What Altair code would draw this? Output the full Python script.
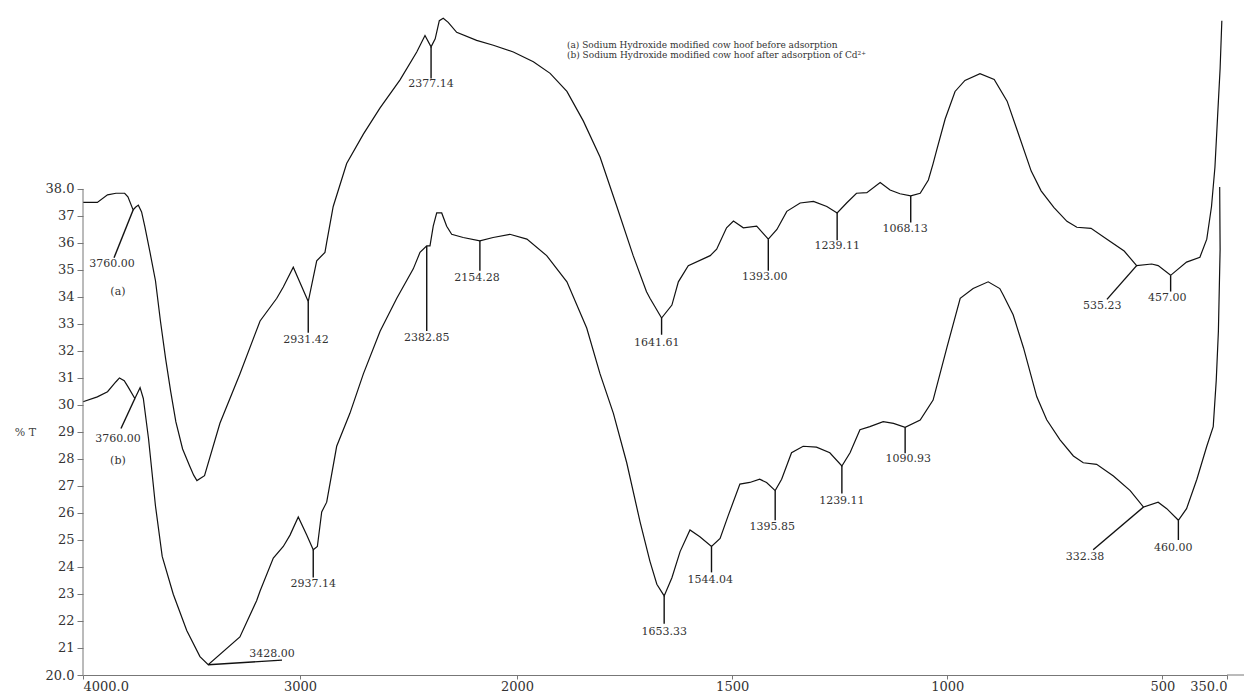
import altair as alt
import pandas as pd

# ---- Curve (a): NaOH modified cow hoof before adsorption ----
a_wn = [4000, 3934, 3887, 3848, 3808, 3793, 3769, 3758, 3745, 3730, 3715, 3690, 3666, 3643,
        3619, 3596, 3572, 3541, 3509, 3490, 3475, 3440, 3369, 3277, 3184, 3107, 3077, 3031,
        2962, 2923, 2885, 2877, 2847, 2785, 2708, 2631, 2539, 2462, 2424, 2396, 2377, 2358,
        2340, 2317, 2278, 2186, 2109, 2017, 1962, 1923, 1884, 1846, 1807, 1768, 1730, 1699,
        1691, 1664, 1640, 1625, 1602, 1551, 1536, 1513, 1497, 1474, 1443, 1416, 1396, 1373,
        1342, 1311, 1280, 1256, 1234, 1211, 1187, 1156, 1133, 1110, 1085, 1063, 1044, 1033,
        1025, 1005, 982, 959, 924, 891, 861, 838, 805, 782, 752, 722, 699, 666, 629, 589,
        560, 525, 510, 481, 444, 413, 397, 386, 378, 372, 366, 362]
a_t = [37.50, 37.50, 37.78, 37.84, 37.84, 37.71, 37.22, 37.32, 37.40, 37.15, 36.60, 35.60, 34.60, 33.10,
       31.70, 30.50, 29.37, 28.37, 27.75, 27.40, 27.20, 27.38, 29.32, 31.15, 33.11, 33.95, 34.37, 35.10,
       33.83, 35.34, 35.65, 36.02, 37.35, 38.94, 40.03, 41.00, 42.04, 43.07, 43.68, 43.26, 43.56, 44.23,
       44.32, 44.17, 43.80, 43.50, 43.32, 43.07, 42.71, 42.28, 41.61, 40.52, 39.18, 37.35, 35.53, 34.19,
       33.95, 33.22, 33.70, 34.56, 35.16, 35.53, 35.77, 36.56, 36.81, 36.56, 36.62, 36.14, 36.50, 37.17,
       37.48, 37.54, 37.35, 37.11, 37.48, 37.84, 37.86, 38.24, 37.96, 37.82, 37.74, 37.84, 38.33, 38.94,
       39.42, 40.59, 41.61, 42.02, 42.27, 42.05, 41.25, 40.19, 38.66, 37.93, 37.31, 36.80, 36.58, 36.54, 36.14, 35.70,
       35.16, 35.22, 35.16, 34.80, 35.29, 35.47, 36.14, 37.35, 38.81, 40.64, 42.46, 44.23]

# ---- Curve (b): NaOH modified cow hoof after adsorption of Cd2+ ----
b_wn = [4000, 3934, 3887, 3848, 3832, 3810, 3793, 3761, 3737, 3722, 3698, 3666, 3635, 3584,
        3522, 3461, 3423, 3277, 3200, 3184, 3123, 3077, 3046, 3008, 2969, 2939, 2920, 2900,
        2877, 2831, 2770, 2708, 2631, 2554, 2478, 2447, 2416, 2401, 2386, 2370, 2347, 2324,
        2301, 2248, 2171, 2110, 2033, 1977, 1931, 1884, 1838, 1807, 1776, 1745, 1714, 1691,
        1675, 1658, 1640, 1621, 1598, 1575, 1548, 1528, 1509, 1482, 1459, 1436, 1420, 1400,
        1385, 1362, 1335, 1304, 1273, 1245, 1226, 1203, 1180, 1149, 1125, 1098, 1063, 1033,
        1001, 970, 940, 905, 878, 870, 847, 823, 792, 769, 738, 707, 684, 653, 614, 575,
        544, 510, 490, 463, 444, 420, 397, 382, 375, 370, 366, 367]
b_t = [30.12, 30.30, 30.49, 30.86, 31.00, 30.90, 30.68, 30.24, 30.64, 30.24, 28.75, 26.26, 24.39, 22.99,
       21.65, 20.68, 20.38, 21.41, 22.75, 23.11, 24.33, 24.76, 25.18, 25.85, 25.18, 24.64, 24.76, 26.04,
       26.40, 28.47, 29.69, 31.15, 32.73, 33.95, 35.04, 35.65, 35.89, 35.89, 36.62, 37.11, 37.11, 36.62,
       36.32, 36.20, 36.08, 36.20, 36.32, 36.14, 35.53, 34.56, 32.85, 31.15, 29.69, 27.86, 25.67, 24.21,
       23.36, 22.93, 23.60, 24.57, 25.37, 25.12, 24.76, 25.06, 25.91, 27.07, 27.13, 27.25, 27.13, 26.83,
       27.25, 28.23, 28.47, 28.44, 28.23, 27.74, 28.23, 29.08, 29.20, 29.38, 29.32, 29.17, 29.44, 30.18,
       32.12, 33.95, 34.31, 34.56, 34.31, 34.07, 33.34, 32.12, 30.30, 29.45, 28.71, 28.11, 27.86, 27.80, 27.37, 26.83,
       26.22, 26.40, 26.16, 25.73, 26.16, 27.25, 28.47, 29.20, 30.91, 32.73, 35.77, 38.07]

# ---- Peak labels: text, anchor on curve, leader end, text position ----
peak_text = ["3760.00", "2931.42", "2377.14", "1641.61", "1393.00", "1239.11", "1068.13", "535.23", "457.00",
             "3760.00", "3428.00", "2937.14", "2382.85", "2154.28", "1653.33", "1544.04", "1395.85",
             "1239.11", "1090.93", "332.38", "460.00"]
anchor_x = [3769, 2962, 2396, 1664, 1416, 1256, 1085, 560, 481,
            3761, 3423, 2939, 2416, 2171, 1658, 1548, 1400, 1245, 1098, 544, 463]
anchor_y = [37.22, 33.83, 43.26, 33.22, 36.14, 37.11, 37.74, 35.16, 34.80,
            30.24, 20.38, 24.64, 35.89, 36.08, 22.93, 24.76, 26.83, 27.74, 29.17, 26.22, 25.73]
lead_x = [3857, 2962, 2396, 1664, 1416, 1256, 1085, 629, 481,
          3825, 3083, 2939, 2416, 2171, 1658, 1548, 1400, 1245, 1098, 661, 463]
lead_y = [35.45, 32.67, 42.09, 32.60, 34.97, 36.10, 36.76, 33.91, 34.20,
          29.13, 20.55, 23.61, 32.74, 34.97, 21.90, 23.80, 25.73, 26.72, 28.21, 24.64, 25.00]
text_x = [3866, 2972, 2396, 1675, 1424, 1256, 1098, 640, 489,
          3839, 3129, 2939, 2416, 2184, 1658, 1551, 1407, 1245, 1091, 680, 475]
text_y = [35.22, 32.41, 41.87, 32.30, 34.75, 35.88, 36.50, 33.65, 33.95,
          28.73, 20.77, 23.36, 32.49, 34.71, 21.61, 23.50, 25.48, 26.43, 28.00, 24.38, 24.71]

# ---- Curve tags and legend ----
tag_text = ["(a)", "(b)"]
tag_x = [3839, 3839]
tag_y = [34.17, 27.92]
legend_text = ["(a) Sodium Hydroxide modified cow hoof before adsorption",
               "(b) Sodium Hydroxide modified cow hoof after adsorption of Cd\u00b2\u207a"]
legend_x = [1884, 1884]
legend_y = [43.33, 42.96]

x_ticks = [4000, 3000, 2000, 1500, 1000, 500, 350]
y_ticks = list(range(20, 39))
x_axis_extent = [350, 300]   # the printed x axis line runs on past 350.0

curves = pd.concat([
    pd.DataFrame({"wn": a_wn, "T": a_t, "series": "a", "idx": range(len(a_wn))}),
    pd.DataFrame({"wn": b_wn, "T": b_t, "series": "b", "idx": range(len(b_wn))}),
])
leaders = pd.DataFrame({"x": anchor_x, "y": anchor_y, "x2": lead_x, "y2": lead_y})
labels = pd.DataFrame({"x": text_x, "y": text_y, "text": peak_text})
tags = pd.DataFrame({"x": tag_x, "y": tag_y, "text": tag_text})
legend = pd.DataFrame({"x": legend_x, "y": legend_y, "text": legend_text})

FONT = "DejaVu Serif"
W, H = 1144, 667
xscale = alt.Scale(domain=[4000, 2000, 350], range=[0, 434, W], nice=False, zero=False)
yscale = alt.Scale(domain=[20, 44.7], nice=False, zero=False)

xaxis = alt.Axis(values=x_ticks, title="", grid=False, domainColor="#777", tickColor="#777",
                 tickSize=4, labelPadding=1, labelFont=FONT, labelFontSize=13, labelColor="#333",
                 labelOverlap=False, labelFlush=False,
                 labelAlign={"expr": "datum.value == 350 ? 'right' : (datum.value == 4000 ? 'left' : 'center')"},
                 labelExpr="(datum.value == 4000 || datum.value == 350) ? format(datum.value, '.1f') : format(datum.value, 'd')")
yaxis = alt.Axis(values=y_ticks, title="% T", titleAngle=0, titleX=-58, titleY=424,
                 titleAlign="center", titleBaseline="middle", titleFont=FONT, titleFontSize=11,
                 titleFontWeight="normal", titleColor="#444", grid=False, domain=False,
                 tickColor="#777", tickSize=6, labelPadding=3, labelFont=FONT, labelFontSize=13,
                 labelColor="#333", labelOverlap=False, labelFlush=False,
                 labelExpr="(datum.value == 20 || datum.value == 38) ? format(datum.value, '.1f') : format(datum.value, 'd')")


def xenc(field):
    return alt.X(field, type="quantitative", scale=xscale, axis=xaxis)


def yenc(field):
    return alt.Y(field, type="quantitative", scale=yscale, axis=yaxis)


lines = alt.Chart(curves).mark_line(color="#111", strokeWidth=1.2, clip=False).encode(
    x=xenc("wn"), y=yenc("T"), detail="series:N", order="idx:Q",
)

yline = alt.Chart(pd.DataFrame({"x": [4000], "y": [20], "y2": [38]})).mark_rule(color="#777", strokeWidth=1).encode(
    x=xenc("x"), y=yenc("y"), y2="y2:Q")

xline = alt.Chart(pd.DataFrame({"x": [x_axis_extent[0]], "x2": [x_axis_extent[1]], "y": [20]})).mark_rule(
    color="#777", strokeWidth=1).encode(x=xenc("x"), x2="x2:Q", y=yenc("y"))

lead = alt.Chart(leaders).mark_rule(color="#111", strokeWidth=1.4).encode(
    x=xenc("x"), y=yenc("y"), x2="x2:Q", y2="y2:Q")

lab = alt.Chart(labels).mark_text(font=FONT, fontSize=11, color="#333", align="center", baseline="middle").encode(
    x=xenc("x"), y=yenc("y"), text="text:N")

tg = alt.Chart(tags).mark_text(font=FONT, fontSize=11, color="#333", align="center", baseline="middle").encode(
    x=xenc("x"), y=yenc("y"), text="text:N")

lg = alt.Chart(legend).mark_text(font=FONT, fontSize=9, color="#333", align="left", baseline="middle").encode(
    x=xenc("x"), y=yenc("y"), text="text:N")

chart = alt.layer(lines, yline, xline, lead, lab, tg, lg).properties(
    width=W, height=H,
    autosize=alt.AutoSizeParams(type="none"),
    padding={"left": 75, "top": 0, "right": 17, "bottom": 17},
).configure_view(stroke=None)

chart.save("out.html", embed_options={"renderer": "svg", "actions": False})
